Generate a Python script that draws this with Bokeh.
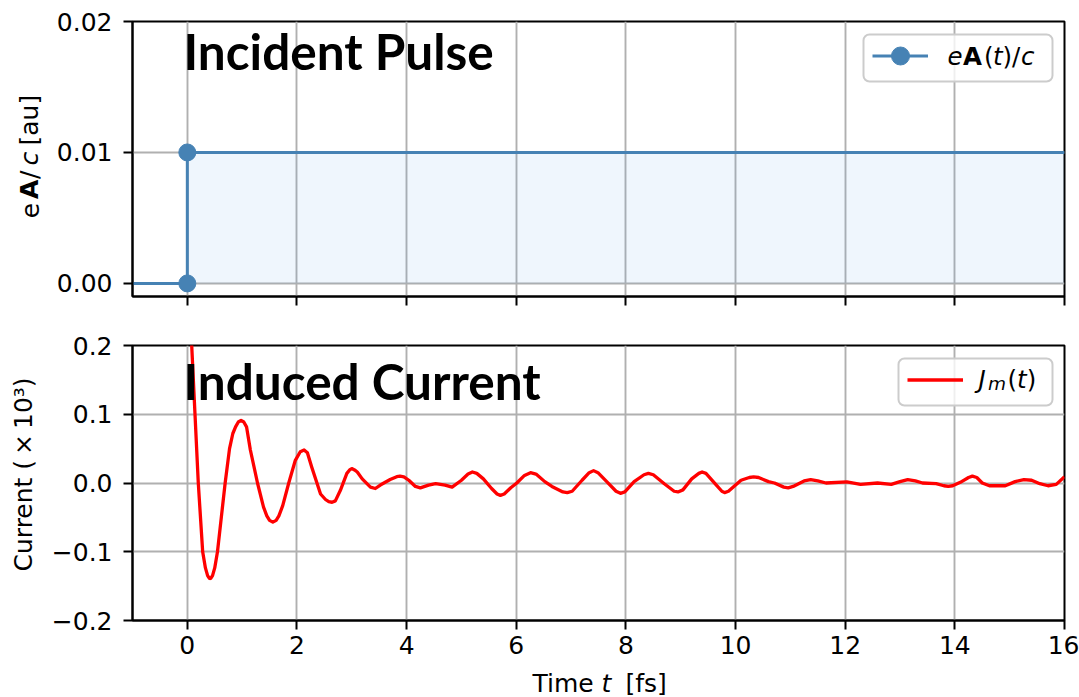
from bokeh.plotting import figure
from bokeh.layouts import column, row
from bokeh.models import (FixedTicker, Label, Legend, LegendItem, BoxAnnotation, Range1d,
                          CustomLabelingPolicy)
from bokeh.embed import file_html
from bokeh.resources import INLINE

# ---------------- data ----------------
pulse_t = [-1.0, 0.0, 0.0, 16.0]
pulse_A = [0.0, 0.0, 0.01, 0.01]
pulse_marker_t = [0.0, 0.0]
pulse_marker_A = [0.0, 0.01]
fill_t = [0.0, 16.0]
fill_low = [0.0, 0.0]
fill_high = [0.01, 0.01]

current_t = [0.00, 0.08, 0.14, 0.20, 0.28, 0.33, 0.37, 0.40, 0.415, 0.43, 0.46, 0.50, 0.55,
             0.62, 0.69, 0.77, 0.83, 0.88, 0.93, 0.98, 1.03, 1.08, 1.15, 1.28, 1.39, 1.45,
             1.50, 1.56, 1.62, 1.67, 1.74, 1.85, 1.97, 2.06, 2.13, 2.19, 2.27, 2.43, 2.52,
             2.58, 2.64, 2.70, 2.79, 2.91, 2.96, 3.00, 3.05, 3.10, 3.19, 3.34, 3.43, 3.52,
             3.70, 3.82, 3.88, 3.95, 4.04, 4.16, 4.25, 4.40, 4.53, 4.70, 4.83, 5.00, 5.12,
             5.20, 5.28, 5.40, 5.55, 5.65, 5.71, 5.78, 5.90, 6.01, 6.15, 6.26, 6.36, 6.52,
             6.65, 6.85, 6.93, 7.02, 7.20, 7.33, 7.41, 7.49, 7.65, 7.82, 7.90, 7.98, 8.15,
             8.33, 8.41, 8.50, 8.70, 8.88, 8.95, 9.04, 9.20, 9.33, 9.39, 9.46, 9.65, 9.75,
             9.80, 9.87, 10.10, 10.25, 10.33, 10.42, 10.60, 10.71, 10.88, 10.96, 11.05,
             11.25, 11.37, 11.50, 11.65, 12.03, 12.28, 12.59, 12.84, 13.00, 13.14, 13.28,
             13.41, 13.66, 13.80, 13.88, 13.96, 14.10, 14.25, 14.32, 14.40, 14.50, 14.63,
             14.92, 15.10, 15.26, 15.40, 15.55, 15.70, 15.85, 16.00]
current_J = [0.33, 0.20, 0.10, 0.00, -0.10, -0.1235, -0.1347, -0.1385, -0.139, -0.1385,
             -0.1347, -0.1235, -0.10, -0.05, 0.00, 0.05, 0.072, 0.0817, 0.0887, 0.091,
             0.0887, 0.0817, 0.048, 0.00, -0.035, -0.0478, -0.0543, -0.057, -0.0543,
             -0.0478, -0.033, 0.00, 0.033, 0.0455, 0.048, 0.044, 0.023, -0.016, -0.024,
             -0.0272, -0.028, -0.026, -0.011, 0.014, 0.019, 0.021, 0.019, 0.016, 0.006,
             -0.006, -0.008, -0.003, 0.005, 0.0092, 0.010, 0.009, 0.004, -0.005, -0.007,
             -0.003, -0.001, -0.003, -0.006, 0.004, 0.013, 0.016, 0.014, 0.006, -0.008,
             -0.016, -0.018, -0.016, -0.007, 0.000, 0.011, 0.015, 0.013, 0.002, -0.005,
             -0.013, -0.014, -0.012, 0.004, 0.015, 0.018, 0.015, 0.002, -0.012, -0.015,
             -0.013, 0.002, 0.012, 0.014, 0.012, -0.001, -0.012, -0.013, -0.010, 0.006,
             0.014, 0.016, 0.014, -0.003, -0.012, -0.014, -0.012, 0.004, 0.008, 0.009,
             0.008, 0.002, 0.000, -0.006, -0.007, -0.005, 0.003, 0.005, 0.003, 0.000,
             0.0015, -0.002, 0.000, -0.002, 0.002, 0.005, 0.003, 0.000, -0.001, -0.004,
             -0.005, -0.004, 0.001, 0.008, 0.010, 0.008, 0.000, -0.004, -0.004, 0.002,
             0.005, 0.004, -0.001, -0.004, -0.002, 0.009]

x_ticks = [0, 2, 4, 6, 8, 10, 12, 14, 16]
top_y_ticks = [0.0, 0.01, 0.02]
top_y_labels = ["0.00", "0.01", "0.02"]
bot_y_ticks = [-0.2, -0.1, 0.0, 0.1, 0.2]
bot_y_labels = ["\u22120.2", "\u22120.1", "0.0", "0.1", "0.2"]

# ---------------- style ----------------
FONT = "DejaVu Sans"
FS = 25
BLUE = "#4682b4"
GRID = "#b0b0b0"
BASE_SHIFT = 0.37   # compensation of the baseline placement, in em
ROT_SHIFT = 23      # compensation along the reading direction for rotated texts

x_range = Range1d(-1, 16)


def make_fig(y_range, border_top, border_bottom):
    p = figure(frame_width=932, frame_height=275, x_range=x_range, y_range=y_range,
               output_backend="svg", toolbar_location=None,
               min_border_left=87, min_border_right=15,
               min_border_top=border_top, min_border_bottom=border_bottom)
    p.outline_line_color = "black"
    p.outline_line_width = 2
    p.outline_line_alpha = 1
    for ax in (p.xaxis[0], p.yaxis[0]):
        ax.axis_line_width = 2
        ax.axis_line_color = "black"
        ax.major_tick_line_width = 2
        ax.major_tick_line_color = "black"
        ax.major_tick_out = 9
        ax.major_tick_in = 0
        ax.minor_tick_out = 0
        ax.minor_tick_in = 0
        ax.major_label_text_font = FONT
        ax.major_label_text_font_size = f"{FS}px"
        ax.major_label_text_color = "black"
    p.xaxis[0].ticker = FixedTicker(ticks=x_ticks)
    p.xaxis[0].major_label_standoff = 6
    p.yaxis[0].major_label_standoff = 11
    p.xgrid.ticker = FixedTicker(ticks=x_ticks)
    for g in (p.xgrid[0], p.ygrid[0]):
        g.grid_line_color = GRID
        g.grid_line_width = 1.9
    p.background_fill_color = "white"
    p.border_fill_color = "white"
    return p


def label_fig(w, h):
    p = figure(frame_width=w, frame_height=h, x_range=Range1d(0, 1), y_range=Range1d(0, 1),
               output_backend="svg", toolbar_location=None,
               min_border_left=0, min_border_right=0, min_border_top=0, min_border_bottom=0)
    p.xaxis.visible = False
    p.yaxis.visible = False
    p.xgrid.visible = False
    p.ygrid.visible = False
    p.outline_line_color = None
    p.background_fill_color = "white"
    p.border_fill_color = "white"
    return p


def add_text(p, x, y, text, size=FS, style="normal", font=FONT, angle=0):
    if angle == 0:
        y = y + BASE_SHIFT * size
    else:
        x = x - BASE_SHIFT * size
        y = y + ROT_SHIFT
    p.add_layout(Label(x=x, y=y, x_units="screen", y_units="screen", text=text,
                       text_font=font, text_font_size=f"{size}px", text_font_style=style,
                       text_color="black", text_baseline="alphabetic", text_align="left",
                       angle=angle, angle_units="deg"))


def add_legend_box(p, left, right, bottom, top):
    box = BoxAnnotation(left=left, right=right, bottom=bottom, top=top,
                        left_units="screen", right_units="screen",
                        bottom_units="screen", top_units="screen",
                        fill_color="white", fill_alpha=0.8,
                        line_color="#cccccc", line_width=2, line_alpha=1)
    if "border_radius" in BoxAnnotation.properties():
        box.border_radius = 6
    p.add_layout(box)


# ---------------- top panel ----------------
top = make_fig(Range1d(-0.001, 0.02), 21, 25)
top.yaxis[0].ticker = FixedTicker(ticks=top_y_ticks)
top.yaxis[0].major_label_overrides = dict(zip(top_y_ticks, top_y_labels))
top.ygrid[0].ticker = FixedTicker(ticks=top_y_ticks)
top.xaxis[0].major_label_text_font_size = "0px"
top.xaxis[0].major_label_standoff = 0
top.xaxis[0].major_label_policy = CustomLabelingPolicy(
    code="for (const i of Array.from(indices)) { indices.unset(i) }\nreturn indices")

top.varea(x=fill_t, y1=fill_low, y2=fill_high, fill_color="#4c9be8", fill_alpha=0.09)
pulse_line = top.line(pulse_t, pulse_A, line_color=BLUE, line_width=3)
pulse_pts = top.scatter(pulse_marker_t, pulse_marker_A, size=17, marker="circle",
                        fill_color=BLUE, line_color=BLUE)

add_legend_box(top, 731, 920, 215, 262)
top_leg = Legend(items=[LegendItem(label=" ", renderers=[pulse_line, pulse_pts])],
                 location=(739, 217), padding=1, margin=0, spacing=0,
                 glyph_width=56, glyph_height=45, label_width=1, label_standoff=0,
                 background_fill_alpha=0, border_line_alpha=0)
top.add_layout(top_leg)

# legend text  eA(t)/c
add_text(top, 815, 231, "e", style="italic", size=24.5)
add_text(top, 830.5, 231, "A", style="bold", size=24.5)
add_text(top, 851.5, 231, "(", size=24.5)
add_text(top, 860.5, 231, "t", style="italic", size=24.5)
add_text(top, 870, 231, ")/", size=24.5)
add_text(top, 888.5, 231, "c", style="italic", size=24.5)

# title
add_text(top, 51, 227.5, "Incident Pulse", size=49.5, style="bold", font="Lato")

# ---------------- bottom panel ----------------
bot = make_fig(Range1d(-0.2, 0.2), 24, 47)
bot.yaxis[0].ticker = FixedTicker(ticks=bot_y_ticks)
bot.yaxis[0].major_label_overrides = dict(zip(bot_y_ticks, bot_y_labels))
bot.ygrid[0].ticker = FixedTicker(ticks=bot_y_ticks)

cur_line = bot.line(current_t, current_J, line_color="#ff0000", line_width=3.3,
                    line_join="round")

add_legend_box(bot, 766, 920, 215, 262)
bot_leg = Legend(items=[LegendItem(label=" ", renderers=[cur_line])],
                 location=(774, 217), padding=1, margin=0, spacing=0,
                 glyph_width=56, glyph_height=45, label_width=1, label_standoff=0,
                 background_fill_alpha=0, border_line_alpha=0)
bot.add_layout(bot_leg)

# legend text  J_m(t)
add_text(bot, 846, 232, "J", style="italic", size=24.5)
add_text(bot, 855.5, 230, "m", style="italic", size=18.5)
add_text(bot, 875, 232, "(", size=24.5)
add_text(bot, 884.6, 232, "t", style="italic", size=24.5)
add_text(bot, 894.2, 232, ")", size=24.5)

add_text(bot, 51, 221.5, "Induced Current", size=49.5, style="bold", font="Lato")

# ---------------- axis titles (own small panels) ----------------
ylab_top = label_fig(45, 321)
add_text(ylab_top, 38.4, 101.3, "e", angle=90)
add_text(ylab_top, 38.4, 120.5, "A", style="bold", angle=90)
add_text(ylab_top, 38.4, 140.5, "/", angle=90)
add_text(ylab_top, 38.4, 154, "c", style="italic", angle=90)
add_text(ylab_top, 38.4, 174, "[au]", angle=90)

ylab_bot = label_fig(45, 346)
add_text(ylab_bot, 32.5, 97, "Current (\u2009\u00d7\u200910\u00b3)", angle=90)

xlab = label_fig(1079, 30)
add_text(xlab, 532, 4.5, "Time")
add_text(xlab, 601, 4.5, "t", style="italic")
add_text(xlab, 625, 4.5, "[fs]")

layout = column(row(ylab_top, top), row(ylab_bot, bot), xlab)
open("out.html", "w").write(file_html(layout, INLINE))
